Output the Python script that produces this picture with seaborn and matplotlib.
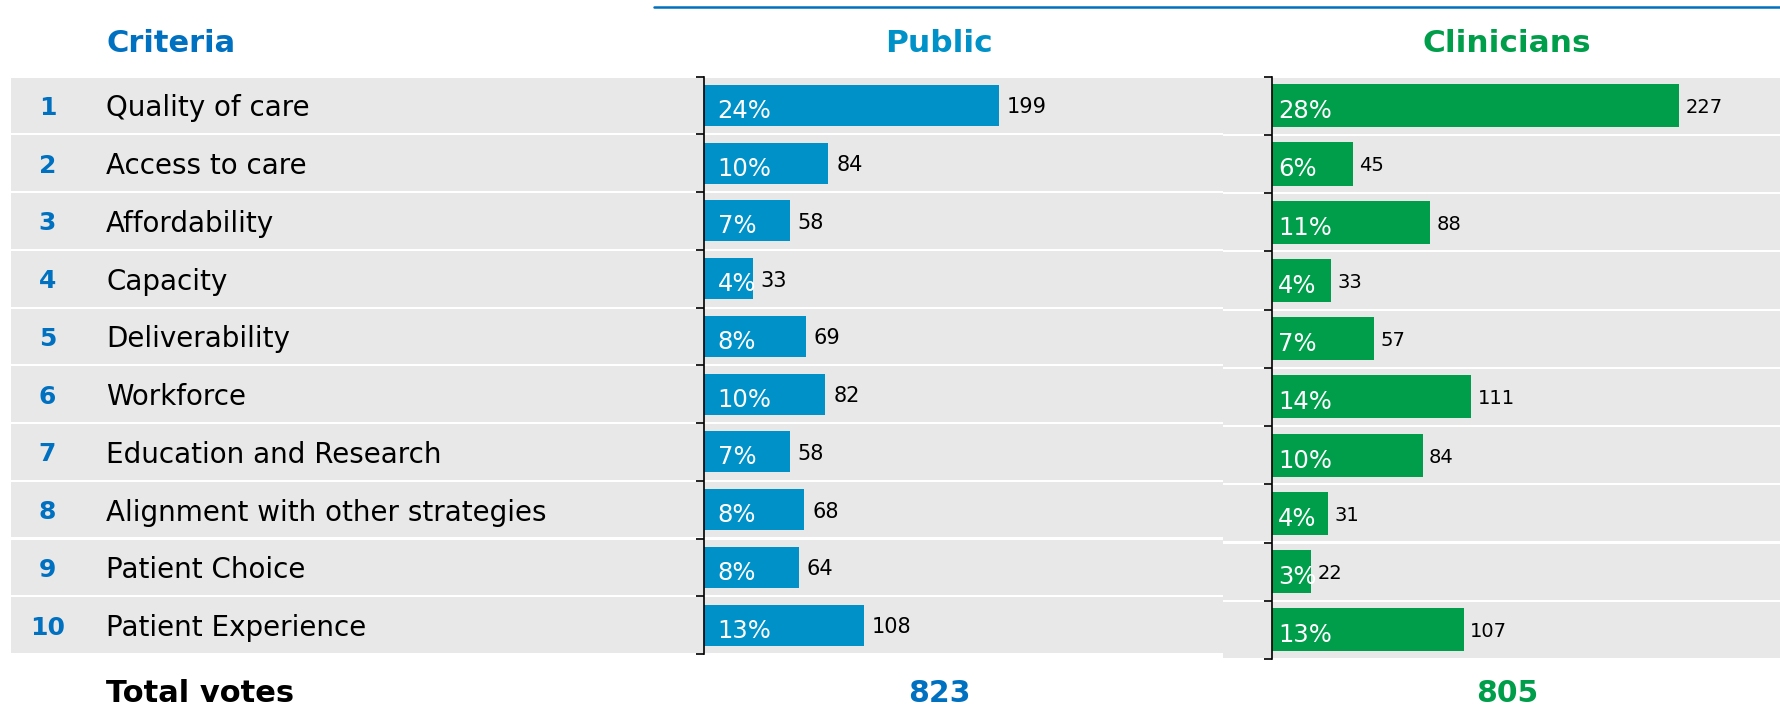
import matplotlib
matplotlib.use("Agg")
import matplotlib.pyplot as plt
import matplotlib.transforms as mtransforms
from matplotlib.lines import Line2D
from matplotlib.patches import Rectangle
import numpy as np
import pandas as pd
import seaborn as sns

# ---- data -------------------------------------------------------------
ranks = ["1", "2", "3", "4", "5", "6", "7", "8", "9", "10"]
criteria = [
    "Quality of care",
    "Access to care",
    "Affordability",
    "Capacity",
    "Deliverability",
    "Workforce",
    "Education and Research",
    "Alignment with other strategies",
    "Patient Choice",
    "Patient Experience",
]
public_votes = [199, 84, 58, 33, 69, 82, 58, 68, 64, 108]
clinician_votes = [227, 45, 88, 33, 57, 111, 84, 31, 22, 107]
group_names = ["Public", "Clinicians"]

# ---- style ------------------------------------------------------------
sns.set_theme(style="white")
plt.rcParams["font.family"] = ["DejaVu Sans"]

DARK_BLUE = "#0070C0"
PUB_BLUE = "#0091C9"
CLIN_GREEN = "#009E4A"
BAND = "#E8E8E8"

W, H, DPI = 1780, 709, 100
PT = 72 / DPI  # points per pixel

fig = plt.figure(figsize=(W / DPI, H / DPI), dpi=DPI)
fig.patch.set_facecolor("white")


def px_box(left, top, right, bottom):
    return [left / W, 1 - bottom / H, (right - left) / W, (bottom - top) / H]


ax_pub = fig.add_axes(px_box(703.5, 76.6, 1223.3, 654))
ax_cli = fig.add_axes(px_box(1272, 76.6, 1780, 659))

df = pd.DataFrame({
    "Criteria": criteria,
    group_names[0]: public_votes,
    group_names[1]: clinician_votes,
})

panels = [
    (ax_pub, group_names[0], PUB_BLUE, 0.71, 350, (11, 1223.3), 14, 8, 17.5, 15),
    (ax_cli, group_names[1], CLIN_GREEN, 0.74, 283.3, (1223.3, 1780), 6, 6.5, 17.5, 14),
]

totals = {}
for ax, col, color, bw, xmax, (bx0, bx1), pct_off, val_off, pct_fs, val_fs in panels:
    ax.set_facecolor("none")
    sns.barplot(data=df, x=col, y="Criteria", color=color, saturation=1,
                width=bw, ax=ax, zorder=3, linewidth=0, edgecolor="none")

    # grey row bands behind the bars
    trans = mtransforms.blended_transform_factory(fig.transFigure, ax.transData)
    gap = 0.018
    for i in range(len(criteria)):
        ax.add_patch(Rectangle((bx0 / W, i - 0.5 + gap), (bx1 - bx0) / W, 1 - 2 * gap,
                               transform=trans, facecolor=BAND, edgecolor="none",
                               zorder=0, clip_on=False))

    total = int(df[col].sum())
    totals[col] = total
    for i, v in enumerate(df[col]):
        ax.annotate(f"{v / total:.0%}", xy=(0, i),
                    xytext=(pct_off * PT, -3 * PT), textcoords="offset points",
                    ha="left", va="center_baseline", color="white",
                    fontsize=pct_fs, zorder=4)
        ax.annotate(str(v), xy=(v, i),
                    xytext=(val_off * PT, 0), textcoords="offset points",
                    ha="left", va="center_baseline", color="black",
                    fontsize=val_fs, zorder=4)

    ax.set_xlim(0, xmax)
    ax.set_ylim(len(criteria) - 0.5, -0.5)
    ax.set_xlabel("")
    ax.set_ylabel("")
    ax.set_xticks([])
    ax.set_yticks(np.arange(-0.5, len(criteria), 1.0))
    ax.set_yticklabels([])
    ax.tick_params(axis="y", direction="out", length=6, width=1.2,
                   color="black", left=True)
    for side in ("top", "right", "bottom"):
        ax.spines[side].set_visible(False)
    ax.spines["left"].set_color("black")
    ax.spines["left"].set_linewidth(1.2)
    ax.spines["left"].set_zorder(5)

# ---- left column: rank and criterion name ------------------------------
row_trans = mtransforms.blended_transform_factory(fig.transFigure, ax_pub.transData)
for i, (r, name) in enumerate(zip(ranks, criteria)):
    fig.text(47.5 / W, i, r, transform=row_trans, ha="center", va="center_baseline",
             color=DARK_BLUE, fontsize=18, fontweight="bold")
    fig.text(106 / W, i, name, transform=row_trans, ha="left", va="center_baseline",
             color="black", fontsize=20)

# ---- headers -------------------------------------------------------------
head_y = 1 - 41 / H
fig.text(106 / W, head_y, "Criteria", ha="left", va="center_baseline",
         color=DARK_BLUE, fontsize=22, fontweight="bold")
fig.text(939 / W, head_y, group_names[0], ha="center", va="center_baseline",
         color=PUB_BLUE, fontsize=22.5, fontweight="bold")
fig.text(1507 / W, head_y, group_names[1], ha="center", va="center_baseline",
         color=CLIN_GREEN, fontsize=22.5, fontweight="bold")

fig.add_artist(Line2D([654 / W, 1.0], [1 - 7 / H, 1 - 7 / H],
                      color=DARK_BLUE, linewidth=1.8))

# ---- totals row ---------------------------------------------------------
foot_y = 1 - 691 / H
fig.text(106 / W, foot_y, "Total votes", ha="left", va="center_baseline",
         color="black", fontsize=22, fontweight="bold")
fig.text(939 / W, foot_y, str(totals[group_names[0]]), ha="center",
         va="center_baseline", color=DARK_BLUE, fontsize=21.5, fontweight="bold")
fig.text(1507 / W, foot_y, str(totals[group_names[1]]), ha="center",
         va="center_baseline", color=CLIN_GREEN, fontsize=21.5, fontweight="bold")

fig.savefig("out.png", dpi=DPI, facecolor="white")
